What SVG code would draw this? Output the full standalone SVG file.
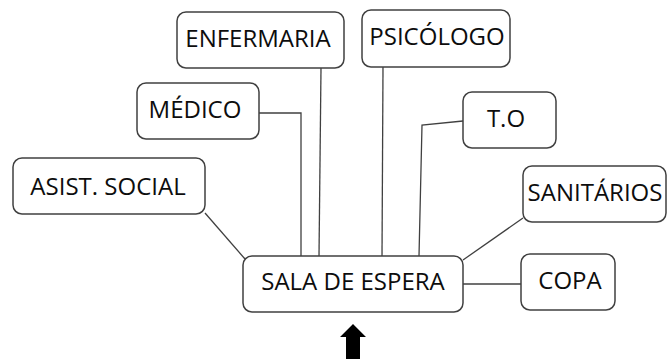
<svg xmlns="http://www.w3.org/2000/svg" width="668" height="359" viewBox="0 0 668 359">
<style>
.box{fill:#fff;stroke:#404040;stroke-width:1.5}
.lbl{font-family:"Open Sans","Noto Sans","Liberation Sans",sans-serif;font-size:24px;fill:#0d0d0d;text-anchor:middle}
.con{fill:none;stroke:#404040;stroke-width:1.3}
</style>
<rect width="668" height="359" fill="#fff"/>
<g id="connectors">
<path class="con" d="M205,213 L245,259"/>
<path class="con" d="M259,113 L301,113 L301,256"/>
<path class="con" d="M321,68 L319,256"/>
<path class="con" d="M383,67 L382,256"/>
<path class="con" d="M463,121 L422,125 L419,256"/>
<path class="con" d="M523,218 L463,260"/>
<path class="con" d="M463,284 L521,284"/>
</g>
<g id="enfermaria"><rect class="box" x="177" y="12" width="167" height="56" rx="9"/><text class="lbl" x="258" y="47">ENFERMARIA</text></g>
<g id="psicologo"><rect class="box" x="362" y="10" width="148" height="57" rx="9"/><text class="lbl" x="437" y="45">PSICÓLOGO</text></g>
<g id="medico"><rect class="box" x="137" y="83" width="122" height="56" rx="9"/><text class="lbl" x="195" y="118">MÉDICO</text></g>
<g id="to"><rect class="box" x="463" y="92" width="93" height="56" rx="9"/><text class="lbl" x="506" y="127">T.O</text></g>
<g id="asist-social"><rect class="box" x="13" y="158" width="192" height="56" rx="9"/><text class="lbl" x="108" y="195">ASIST. SOCIAL</text></g>
<g id="sanitarios"><rect class="box" x="523" y="166" width="143" height="56" rx="9"/><text class="lbl" x="595" y="201">SANITÁRIOS</text></g>
<g id="sala-de-espera"><rect class="box" x="243" y="256" width="220" height="56" rx="9"/><text class="lbl" x="353" y="290">SALA DE ESPERA</text></g>
<g id="copa"><rect class="box" x="521" y="254" width="94" height="56" rx="9"/><text class="lbl" x="570" y="289">COPA</text></g>
<g id="arrow"><polygon points="353,324 366,337 360,337 360,359 346,359 346,337 340,337" fill="#000"/></g>
</svg>
